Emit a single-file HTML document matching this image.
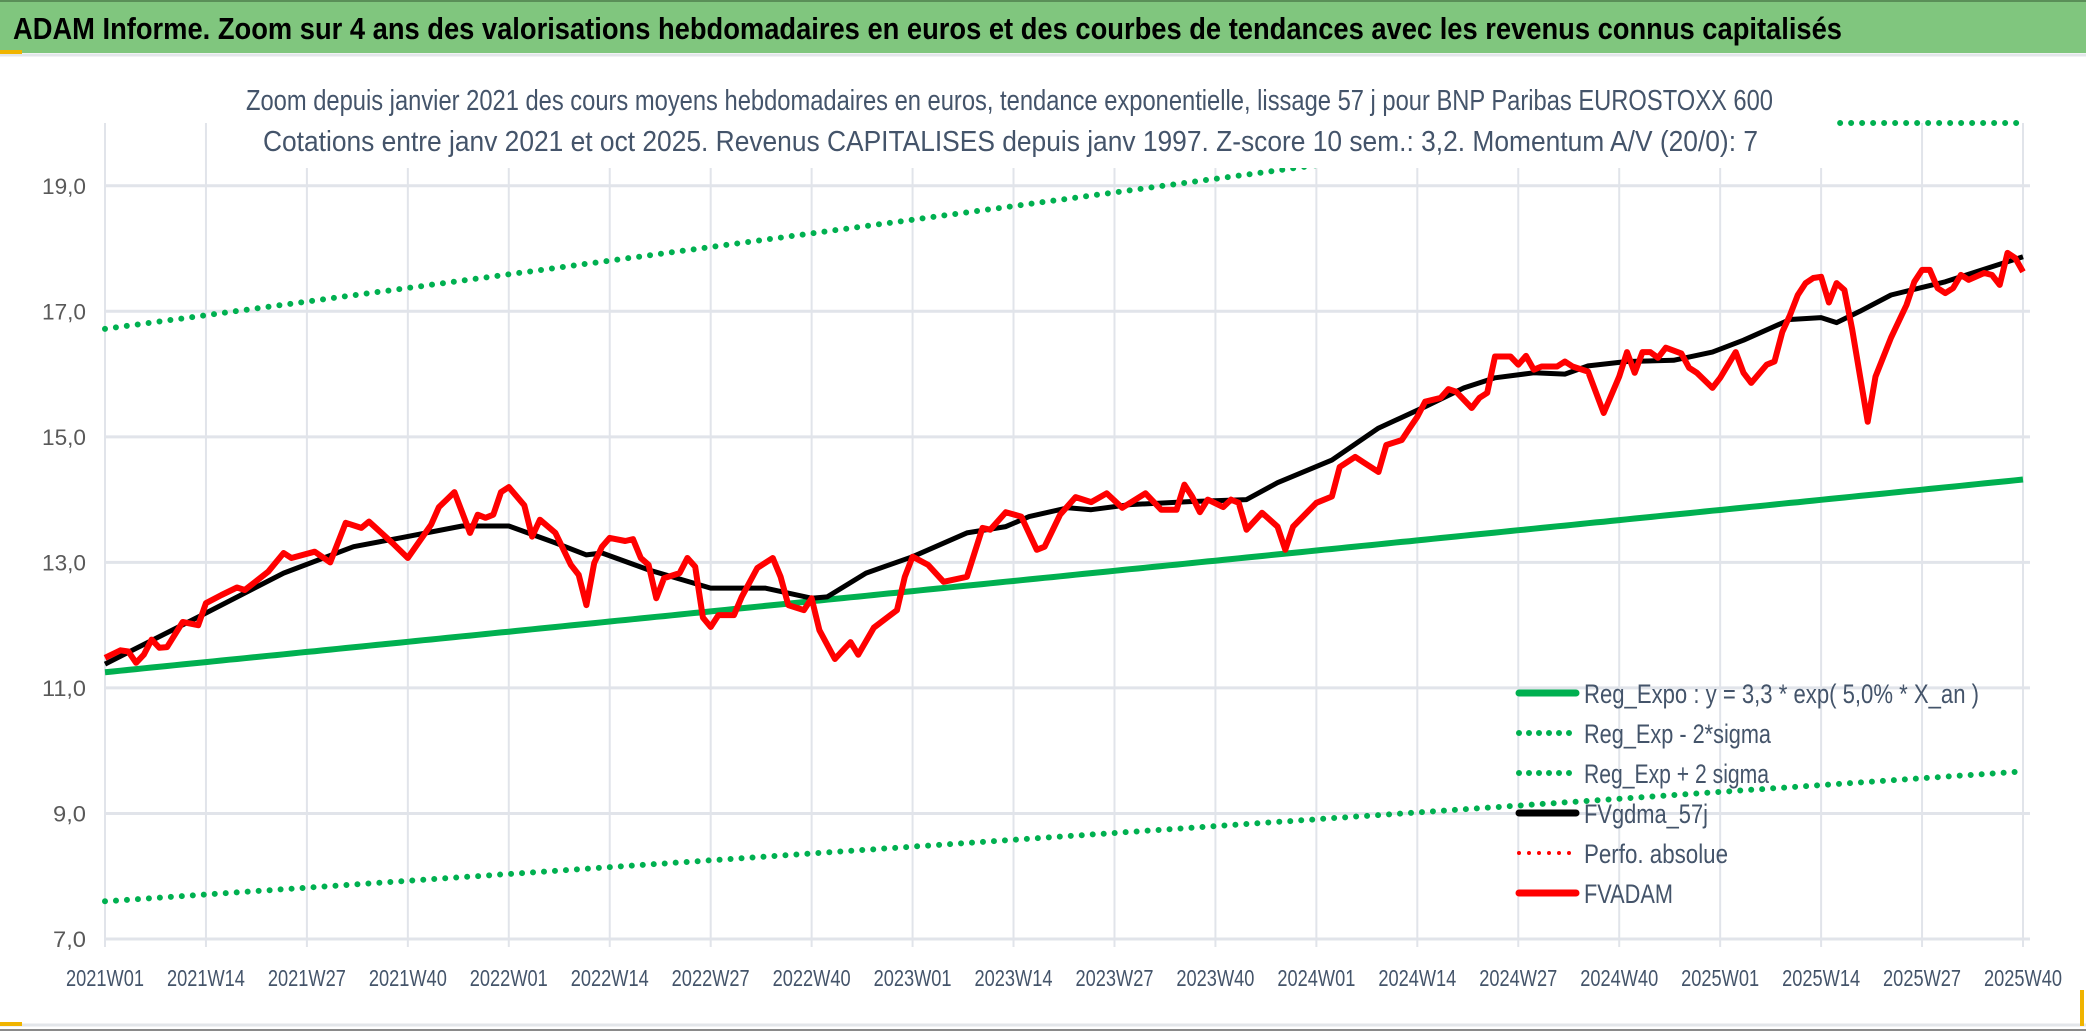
<!DOCTYPE html>
<html><head><meta charset="utf-8"><style>
html,body{margin:0;padding:0;background:#fff;}
svg{display:block;font-family:"Liberation Sans",sans-serif;}
</style></head><body>
<svg id="chart" width="2086" height="1031" viewBox="0 0 2086 1031">
  <rect x="0" y="0" width="2086" height="1031" fill="#fff"/>
  <rect x="0" y="0" width="2086" height="53" fill="#80c67e"/>
  <line x1="0" y1="1" x2="2086" y2="1" stroke="#5a8f58" stroke-width="2"/>
  <line x1="0" y1="55" x2="2086" y2="55" stroke="#e3e6ea" stroke-width="3"/>
  <rect x="0" y="50" width="22" height="4" fill="#f0b400"/>
  <text x="13" y="39" font-size="31" font-weight="bold" fill="#000" textLength="1829" lengthAdjust="spacingAndGlyphs">ADAM Informe. Zoom sur 4 ans des valorisations hebdomadaires en euros et des courbes de tendances avec les revenus connus capitalisés</text>
  <g id="grid"></g>
  <g id="series"></g>
  <rect x="232" y="76" width="1603" height="92" fill="#fff"/>
  <text x="246" y="110" font-size="29" fill="#44546a" textLength="1527" lengthAdjust="spacingAndGlyphs">Zoom depuis janvier 2021 des cours moyens hebdomadaires en euros, tendance exponentielle, lissage 57 j pour BNP Paribas EUROSTOXX 600</text>
  <text x="263" y="151" font-size="29" fill="#44546a" textLength="1495" lengthAdjust="spacingAndGlyphs">Cotations entre janv 2021 et oct 2025. Revenus CAPITALISES depuis janv 1997. Z-score 10 sem.: 3,2. Momentum A/V (20/0): 7</text>
  <g id="legend"></g>
  <line x1="0" y1="1025" x2="2086" y2="1025" stroke="#e3e6ea" stroke-width="3"/>
  <line x1="0" y1="1030" x2="2086" y2="1030" stroke="#8a8a8a" stroke-width="2"/>
  <rect x="0" y="1022" width="22" height="4" fill="#f0b400"/>
  <rect x="2080" y="990" width="4" height="36" fill="#f0b400"/>
</svg>
<script>
// ---- data ----
const tickLabels = ["2021W01","2021W14","2021W27","2021W40","2022W01","2022W14","2022W27","2022W40","2023W01","2023W14","2023W27","2023W40","2024W01","2024W14","2024W27","2024W40","2025W01","2025W14","2025W27","2025W40"];
const yTicks = [7,9,11,13,15,17,19];
const yTickLabels = ["7,0","9,0","11,0","13,0","15,0","17,0","19,0"];
const redWeeks = [0,2,3,4,5,6,7,8,10,12,13,15,17,18,21,23,24,27,29,31,33,34,37,39,42,43,44,45,47,48,49,50,51,52,54,55,56,58,60,61,62,63,64,65,67,68,69,70,71,72,74,75,76,77,78,79,81,82,84,86,87,88,90,91,92,94,96,97,99,102,103,104,106,108,111,113,114,116,118,120,121,123,125,127,129,131,134,136,138,139,140,141,142,144,145,146,147,149,151,152,153,156,158,159,161,162,164,165,167,168,169,170,172,173,174,176,177,178,179,181,182,183,184,185,187,188,189,191,193,195,196,197,198,199,200,201,203,204,205,207,208,210,211,212,214,215,216,217,218,219,220,221,222,223,224,225,227,228,230,232,233,234,235,236,237,238,239,240,242,243,244,245,246,247];
const redValues = [11.48,11.6,11.58,11.4,11.53,11.77,11.64,11.65,12.05,12.0,12.35,12.48,12.6,12.56,12.85,13.15,13.07,13.17,13.0,13.63,13.55,13.65,13.31,13.07,13.6,13.88,14.0,14.12,13.47,13.76,13.71,13.76,14.12,14.2,13.91,13.41,13.68,13.47,12.96,12.8,12.32,12.99,13.25,13.39,13.34,13.37,13.07,12.96,12.43,12.75,12.83,13.07,12.93,12.12,11.97,12.16,12.16,12.45,12.91,13.07,12.77,12.32,12.24,12.43,11.92,11.46,11.73,11.53,11.96,12.24,12.77,13.09,12.96,12.69,12.77,13.55,13.52,13.8,13.73,13.2,13.25,13.76,14.04,13.96,14.1,13.87,14.1,13.84,13.84,14.24,14.05,13.8,14.0,13.88,14.0,13.95,13.52,13.79,13.57,13.2,13.57,13.95,14.05,14.52,14.68,14.6,14.44,14.87,14.95,15.14,15.32,15.56,15.62,15.76,15.72,15.46,15.62,15.7,16.28,16.28,16.15,16.29,16.07,16.12,16.12,16.2,16.12,16.04,15.38,15.96,16.35,16.02,16.35,16.35,16.26,16.42,16.33,16.1,16.02,15.78,15.94,16.35,16.02,15.86,16.15,16.2,16.67,16.94,17.26,17.45,17.53,17.55,17.14,17.45,17.34,16.71,15.24,15.96,16.58,17.1,17.47,17.66,17.66,17.37,17.29,17.37,17.58,17.5,17.61,17.58,17.42,17.93,17.85,17.63,17.82,17.87,17.79,18.1];
const maWeeks = [0,12,23,32,38,46,52,58,62,64,70,78,85,91,93,98,104,111,116,119,124,127,132,140,147,151,158,164,170,175,179,184,188,191,196,202,207,211,217,221,223,226,230,237,243,247];
const maValues = [11.38,12.13,12.83,13.25,13.39,13.58,13.58,13.31,13.12,13.15,12.88,12.59,12.59,12.43,12.45,12.83,13.09,13.47,13.57,13.73,13.87,13.84,13.92,13.97,14.0,14.27,14.63,15.14,15.48,15.78,15.94,16.02,16.0,16.13,16.2,16.22,16.35,16.54,16.87,16.9,16.82,17.0,17.26,17.47,17.71,17.87];
const trendWeeks = [0,247];
const regValues = [11.25,14.32];
const lowValues = [7.6,9.67];
const highValues = [16.72,20.85];

// ---- axes ----
const X0=105, X1=2023, NW=247, YTOP=20, YBOT=7, PY0=123, PY1=939;
const xs = w => X0 + (X1-X0)*w/NW;
const ys = v => PY1 - (PY1-PY0)*(v-YBOT)/(YTOP-YBOT);
const NS="http://www.w3.org/2000/svg";
function mk(tag, attrs, parent){const e=document.createElementNS(NS,tag);for(const k in attrs)e.setAttribute(k,attrs[k]);parent.appendChild(e);return e;}

const grid=document.getElementById('grid');
yTicks.forEach((v,i)=>{
  const l=mk('line',{x1:X0,x2:2030,y1:ys(v),y2:ys(v),stroke:'#e1e4ea','stroke-width':3},grid);
  
  
  const t=mk('text',{x:86,y:ys(v)+8,'font-size':22,fill:'#595959','text-anchor':'end',textLength:(yTickLabels[i].length*11),lengthAdjust:'spacingAndGlyphs'},grid);
  t.textContent=yTickLabels[i];
  
  
});
tickLabels.forEach((lab,i)=>{
  const x=xs(i*13);
  const l=mk('line',{x1:x,x2:x,y1:PY0,y2:947,stroke:'#e1e4ea','stroke-width':2},grid);
  
  
  const t=mk('text',{x:x,y:986,'font-size':23,fill:'#44546a','text-anchor':'middle',textLength:78,lengthAdjust:'spacingAndGlyphs'},grid);
  t.textContent=lab;
  
  
});

const ser=document.getElementById('series');
function interp(ws,vs,w){for(let i=0;i<ws.length-1;i++){if(w>=ws[i]&&w<=ws[i+1]){return vs[i]+(vs[i+1]-vs[i])*(w-ws[i])/(ws[i+1]-ws[i]);}}return vs[vs.length-1];}
function trendPts(vals){const p=[];for(let w=0;w<=NW;w++){const v=Math.min(YTOP,interp(trendWeeks,vals,w));p.push(xs(w).toFixed(1)+','+ys(v).toFixed(1));}return p.join(' ');}
function pts(ws,vs){return ws.map((w,i)=>xs(w).toFixed(1)+','+ys(vs[i]).toFixed(1)).join(' ');}

const hi=mk('polyline',{points:trendPts(highValues),fill:'none',stroke:'#00b050','stroke-width':6,'stroke-linecap':'round','stroke-dasharray':'0 11'},ser);


const lo=mk('polyline',{points:trendPts(lowValues),fill:'none',stroke:'#00b050','stroke-width':6,'stroke-linecap':'round','stroke-dasharray':'0 11'},ser);


const rg=mk('polyline',{points:trendPts(regValues),fill:'none',stroke:'#00b050','stroke-width':6},ser);


const ma=mk('polyline',{points:pts(maWeeks,maValues),fill:'none',stroke:'#000','stroke-width':5,'stroke-linejoin':'round'},ser);


const red=mk('polyline',{points:pts(redWeeks,redValues),fill:'none',stroke:'#ff0000','stroke-width':6,'stroke-linejoin':'round'},ser);



// ---- legend ----
const leg=document.getElementById('legend');
const legendLabels=["Reg_Expo : y = 3,3 * exp( 5,0% *  X_an )","Reg_Exp - 2*sigma","Reg_Exp + 2 sigma","FVgdma_57j","Perfo. absolue","FVADAM"];
const legendColors=["#00b050","#00b050","#00b050","#000","#ff0000","#ff0000"];
const legendDotted=[false,true,true,false,true,false];
const legendWidths=[395,187,185,124,144,89];
legendLabels.forEach((lab,i)=>{
  const y=693+i*40;
  const g=mk('g',{},leg);
  
  
  if(legendDotted[i]) mk('line',{x1:1519,x2:1576,y1:y,y2:y,stroke:legendColors[i],'stroke-width':i==4?4:6,'stroke-linecap':'round','stroke-dasharray':'0 10'},g);
  else mk('line',{x1:1519,x2:1576,y1:y,y2:y,stroke:legendColors[i],'stroke-width':7,'stroke-linecap':'round'},g);
  const t=mk('text',{x:1584,y:y+10,'font-size':27,fill:'#44546a',textLength:legendWidths[i],lengthAdjust:'spacingAndGlyphs'},g);
  t.textContent=lab;
});
</script>
</body></html>
